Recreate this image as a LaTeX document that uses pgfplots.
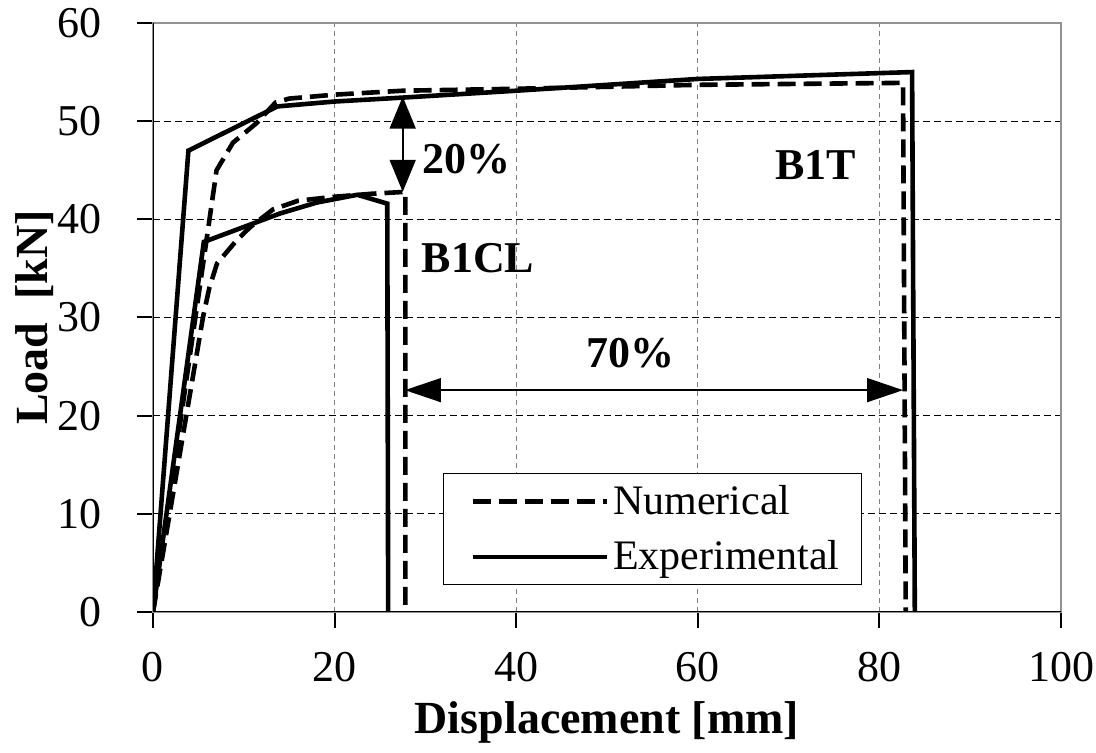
\documentclass[border=0pt]{standalone}
\usepackage{pgfplots}
\pgfplotsset{compat=1.18}
\usepackage{fontspec}
\setmainfont{Liberation Serif}
\usetikzlibrary{arrows.meta}

\begin{document}
\begin{tikzpicture}
% fixed page frame around the axis box (axis box lower-left corner is at the origin)
\useasboundingbox (-76.5pt,-70.5pt) rectangle (471.5pt,306pt);
\begin{axis}[
  scale only axis,
  width=454pt, height=294.5pt,
  xmin=0, xmax=100, ymin=0, ymax=60,
  xtick={0,20,...,100}, ytick={0,10,...,60},
  tick pos=left, tick align=outside,
  major tick length=8pt,
  tick style={black, line width=1pt},
  axis line style={draw=gray!85, line width=1pt},
  /pgf/number format/assume math mode=true,
  every tick label/.append style={font=\fontsize{22}{22}\selectfont},
  xticklabel style={yshift=-8.5pt},
  yticklabel style={xshift=-14pt},
  ymajorgrids, xmajorgrids,
  y grid style={black, line width=0.6pt, dash pattern=on 3.5pt off 2pt},
  x grid style={gray, line width=0.6pt, dash pattern=on 2.5pt off 2pt},
  xlabel={Displacement [mm]},
  ylabel={Load~~[kN]},
  every axis x label/.style={at={(axis description cs:0.5,0)}, anchor=center, yshift=-55pt,
    font=\bfseries\fontsize{23}{23}\selectfont},
  every axis y label/.style={at={(axis description cs:0,0.5)}, anchor=center, xshift=-59pt, rotate=90,
    font=\bfseries\fontsize{23}{23}\selectfont},
  legend style={at={(rel axis cs:0.3194,0.236)}, anchor=north west, draw=black, line width=0.6pt,
    fill=white, font=\fontsize{21}{21}\selectfont, row sep=7.5pt, inner xsep=9pt, inner ysep=4pt},
  legend cell align=left,
  legend image code/.code={\path (0pt,0pt); \draw[#1] (4.5pt,0pt) -- (71.5pt,0pt);},
  numerical/.style={black, line width=2.3pt, dash pattern=on 9pt off 4pt},
  experimental/.style={black, line width=2.3pt},
]
\addlegendimage{numerical}
\addlegendentry{Numerical}
\addlegendimage{experimental}
\addlegendentry{Experimental}

% B1T, numerical
\addplot[numerical, forget plot] coordinates {
  (0,0) (7.0,45.0) (8.8,47.8) (11.4,49.8) (13.5,51.9) (15,52.3) (20,52.7)
  (27.5,53.1) (40,53.3) (60,53.7) (82.6,53.9) (82.9,0)
};
% B1T, experimental
\addplot[experimental, forget plot] coordinates {
  (0,0) (3.9,47.0) (13.7,51.5) (20,52.0) (27.5,52.4) (40,53.1) (60,54.3)
  (83.6,55.0) (83.9,0)
};
% B1CL, numerical
\addplot[numerical, forget plot] coordinates {
  (0,0) (5.5,30.0) (6.2,33.0) (7.05,35.5) (9.25,37.9) (10.7,39.2) (13.2,41.0)
  (16,41.9) (20,42.3) (24,42.6) (27.8,42.8) (27.8,0)
};
% B1CL, experimental
\addplot[experimental, forget plot] coordinates {
  (0,0) (5.6,37.7) (14.0,40.6) (18,41.7) (22.5,42.5) (25.8,41.6) (25.9,0)
};

% strength and ductility differences
\draw[line width=0.8pt, {Triangle[length=16pt,width=13pt]}-{Triangle[length=16pt,width=13pt]}]
  (axis cs:27.5,52.5) -- (axis cs:27.5,42.8);
\draw[line width=0.8pt, {Triangle[length=18pt,width=12pt]}-{Triangle[length=18pt,width=12pt]}]
  (axis cs:27.75,22.6) -- (axis cs:82.6,22.6);

\node[font=\bfseries\fontsize{22}{22}\selectfont] at (axis cs:34.5,46.1) {20\%};
\node[font=\bfseries\fontsize{22}{22}\selectfont] at (axis cs:35.8,36.0) {B1CL};
\node[font=\bfseries\fontsize{22}{22}\selectfont] at (axis cs:73.0,45.5) {B1T};
\node[font=\bfseries\fontsize{22}{22}\selectfont] at (axis cs:52.6,26.4) {70\%};

% black left and bottom axis lines
\draw[black, line width=1.2pt] (rel axis cs:0,1) -- (rel axis cs:0,0) -- (rel axis cs:1,0);
\end{axis}
\end{tikzpicture}
\end{document}
